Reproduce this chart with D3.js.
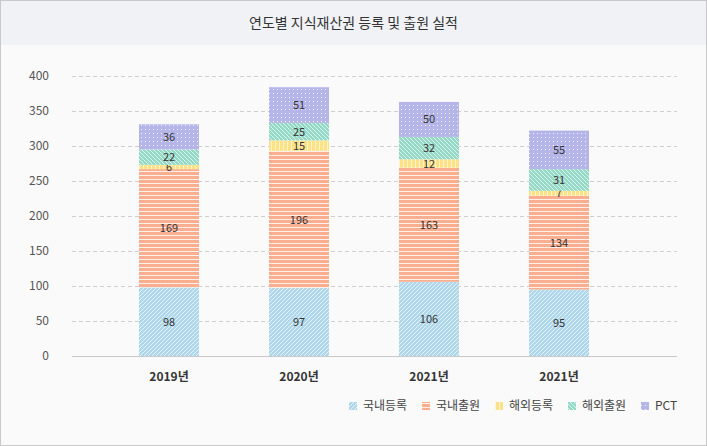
<!DOCTYPE html>
<html><head><meta charset="utf-8">
<script src="https://cdn.jsdelivr.net/npm/d3@7"></script>
<style>
html,body{margin:0;padding:0;background:#fff;}
svg{display:block;font-family:"Noto Sans CJK KR","Noto Sans",sans-serif;}
</style></head>
<body>
<svg id="chart" width="707" height="446"></svg>
<script>
const title = "연도별 지식재산권 등록 및 출원 실적";
const categories = ["2019년", "2020년", "2021년", "2021년"];
const seriesNames = ["국내등록", "국내출원", "해외등록", "해외출원", "PCT"];
const domesticReg = [98, 97, 106, 95];
const domesticApp = [169, 196, 163, 134];
const overseasReg = [6, 15, 12, 7];
const overseasApp = [22, 25, 32, 31];
const pct = [36, 51, 50, 55];
const yTicks = [0, 50, 100, 150, 200, 250, 300, 350, 400];
const colors = ["#afd7ec", "#f9ae8f", "#fde285", "#94d9c6", "#b5b5ea"];

const seriesValues = [domesticReg, domesticApp, overseasReg, overseasApp, pct];
const W = 707, H = 446;
const svg = d3.select("#chart");

// frame
svg.append("rect").attr("x",0.5).attr("y",0.5).attr("width",W-1).attr("height",H-1)
  .attr("fill","#fafafa").attr("stroke","#c9c9c9");
svg.append("rect").attr("x",1).attr("y",1).attr("width",W-2).attr("height",44).attr("fill","#f1f2f6");
svg.append("text").attr("x",W/2).attr("y",28).attr("text-anchor","middle")
  .attr("font-size",14).attr("fill","#333").text(title);

// patterns
const defs = svg.append("defs");
function pat(id, color, draw){
  const p = defs.append("pattern").attr("id",id).attr("patternUnits","userSpaceOnUse")
    .attr("width",4).attr("height",4);
  p.append("rect").attr("width",4).attr("height",4).attr("fill",color);
  draw(p);
}
pat("p0", colors[0], p => {
  p.append("path").attr("d","M-1,1 l2,-2 M0,4 l4,-4 M3,5 l2,-2").attr("stroke","#fff").attr("stroke-width",0.9).attr("stroke-opacity",0.75);
});
pat("p1", colors[1], p => {
  p.append("rect").attr("x",0).attr("y",3).attr("width",4).attr("height",1).attr("fill","#fff").attr("fill-opacity",0.8);
});
pat("p2", colors[2], p => {
  p.append("rect").attr("x",3).attr("y",0).attr("width",1).attr("height",4).attr("fill","#fff").attr("fill-opacity",0.6);
});
pat("p3", colors[3], p => {
  p.append("path").attr("d","M-1,3 l2,2 M0,0 l4,4 M3,-1 l2,2").attr("stroke","#fff").attr("stroke-width",0.9).attr("stroke-opacity",0.75);
});
pat("p4", colors[4], p => {
  p.append("rect").attr("x",1).attr("y",1).attr("width",1).attr("height",1).attr("fill","#fff").attr("fill-opacity",0.85);
});

const plotL = 72, plotR = 677, plotT = 76, plotB = 356;
const y = d3.scaleLinear().domain([0, 400]).range([plotB, plotT]);
const x = d3.scaleBand().domain(d3.range(categories.length)).range([104, 624]).padding(0);
const barW = 60;

// grid
const g = svg.append("g");
g.selectAll("line.grid").data(yTicks.filter(t => t > 0)).join("line")
  .attr("x1", plotL).attr("x2", plotR)
  .attr("y1", d => y(d) + 0.5).attr("y2", d => y(d) + 0.5)
  .attr("stroke", "#cfcfcf").attr("stroke-dasharray", "4,3");
g.selectAll("text.yt").data(yTicks).join("text")
  .attr("x", 49).attr("y", d => y(d) + 4).attr("text-anchor", "end")
  .attr("font-size", 12).attr("fill", "#555").text(d => d);

// stacks
const rows = categories.map((c, i) => {
  const o = {i};
  seriesNames.forEach((s, k) => o[s] = seriesValues[k][i]);
  return o;
});
const stack = d3.stack().keys(seriesNames)(rows);
stack.forEach((layer, k) => {
  const lg = svg.append("g");
  lg.selectAll("rect").data(layer).join("rect")
    .attr("x", d => x(d.data.i) + x.bandwidth()/2 - barW/2)
    .attr("width", barW)
    .attr("y", d => y(d[1]))
    .attr("height", d => y(d[0]) - y(d[1]))
    .attr("fill", `url(#p${k})`);
  lg.selectAll("text").data(layer).join("text")
    .attr("x", d => x(d.data.i) + x.bandwidth()/2)
    .attr("y", d => (y(d[0]) + y(d[1]))/2 + 4)
    .attr("text-anchor", "middle").attr("font-size", 11).attr("fill", "#333")
    .text(d => d[1] - d[0]);
});

// x axis
svg.append("line").attr("x1", plotL).attr("x2", plotR).attr("y1", plotB + 0.5).attr("y2", plotB + 0.5)
  .attr("stroke", "#c8c8c8");
svg.selectAll("text.xt").data(categories).join("text")
  .attr("x", (d, i) => x(i) + x.bandwidth()/2).attr("y", 381)
  .attr("text-anchor", "middle").attr("font-size", 12).attr("font-weight", "bold")
  .attr("fill", "#333").text(d => d);

// legend
const legX = [349, 422, 495, 568, 641];
const leg = svg.append("g");
seriesNames.forEach((s, k) => {
  leg.append("rect").attr("x", legX[k]).attr("y", 402).attr("width", 8).attr("height", 8)
    .attr("fill", `url(#p${k})`);
  leg.append("text").attr("x", legX[k] + 14).attr("y", 410).attr("font-size", 12)
    .attr("fill", "#444").text(s);
});
</script>
</body></html>
